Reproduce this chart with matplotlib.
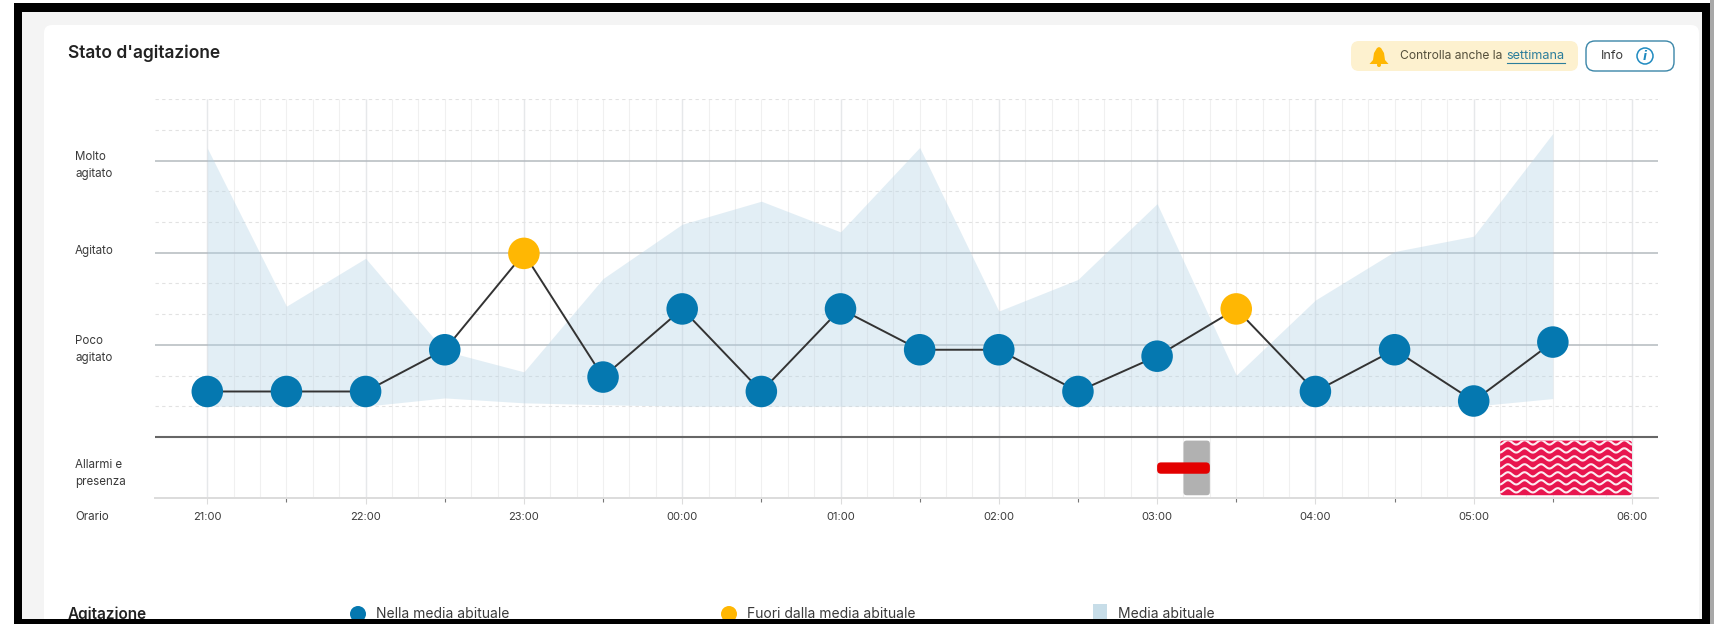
import matplotlib
matplotlib.use("Agg")
import numpy as np
import matplotlib.pyplot as plt
from matplotlib.patches import Rectangle, FancyBboxPatch, Circle, Polygon
from matplotlib.transforms import ScaledTranslation

W, H = 1714, 624
FONT = ["Inter", "DejaVu Sans"]
plt.rcParams["font.family"] = FONT

# ---- data ----
hour_labels = ["21:00", "22:00", "23:00", "00:00", "01:00", "02:00", "03:00", "04:00", "05:00", "06:00"]
time_h = [0, .5, 1, 1.5, 2, 2.5, 3, 3.5, 4, 4.5, 5, 5.5, 6, 6.5, 7, 7.5, 8, 8.5]
agitation = [.48, .48, .48, 1.84, 4.98, .95, 3.17, .48, 3.17, 1.84, 1.84, .48, 1.63, 3.17, .48, 1.84, .17, 2.09]
outside = [0, 0, 0, 0, 1, 0, 0, 0, 0, 0, 0, 0, 0, 1, 0, 0, 0, 0]
band_upper = [8.41, 3.26, 4.82, 1.80, 1.12, 4.16, 5.93, 6.68, 5.68, 8.43, 3.10, 4.13, 6.60, 1.01, 3.46, 5.04, 5.54, 8.89]
band_lower = [0, 0, 0, .27, .11, .05, 0, 0, 0, 0, 0, 0, 0, 0, 0, 0, 0, .25]
level_values = [8, 5, 2, -2]
level_labels = ["Molto\nagitato", "Agitato", "Poco\nagitato", "Allarmi e\npresenza"]
solid_levels = [2, 5, 8]
dashed_levels = [0, 1, 3, 4, 6, 7, 9, 10]
presence_span = [6 + 1 / 6, 6 + 2 / 6]
alarm_span = [6.0, 6 + 2 / 6]
wave_span = [8 + 1 / 6, 9.0]

BLUE, ORANGE = "#0578b0", "#ffb703"
TXT = "#3a3a3a"

fig = plt.figure(figsize=(W / 100, H / 100), dpi=100, facecolor="white")

# ---- page furniture, in pixel coordinates ----
bg = fig.add_axes([0, 0, 1, 1], zorder=0)
bg.set_xlim(0, W); bg.set_ylim(H, 0); bg.axis("off")
bg.add_patch(Rectangle((22, 11), 1680, 610, fc="#f4f4f4", ec="none"))
bg.add_patch(FancyBboxPatch((44, 25), 1655, 640, boxstyle="round,pad=0,rounding_size=8", fc="white", ec="none"))
bg.text(68, 53, "Stato d'agitazione", fontsize=12.5, fontweight=600, color="#222222", va="center")

bg.add_patch(FancyBboxPatch((1351, 41), 227, 30, boxstyle="round,pad=0,rounding_size=8", fc="#fdf1cf", ec="none"))
bg.add_patch(Polygon([(1369.5, 64), (1373, 60), (1374, 53), (1377, 48), (1379, 47), (1381, 48), (1384, 53),
                      (1385, 60), (1388.5, 64)], fc="#ffb703", ec="none"))
bg.add_patch(Circle((1379, 65), 2, fc="#ffb703", ec="none"))
bg.text(1400, 56, "Controlla anche la", fontsize=8.7, color="#55503c", va="center")
bg.text(1506.5, 56, "settimana", fontsize=9.1, color="#2b7d9b", va="center")
bg.plot([1507, 1565], [62.5, 62.5], color="#2b7d9b", lw=0.8)
bg.add_patch(FancyBboxPatch((1586, 41), 88, 30, boxstyle="round,pad=0,rounding_size=9", fc="white", ec="#3b86a8", lw=1))
bg.text(1601, 56, "Info", fontsize=9, color=TXT, va="center")
bg.add_patch(Circle((1645, 56), 8, fc="white", ec="#1f8ac0", lw=1.1))
bg.text(1645, 56, "i", fontsize=8.5, color="#1f8ac0", style="italic", fontweight="bold", ha="center", va="center",
        family=["DejaVu Sans"])

LEG_Y = 614
bg.text(68, LEG_Y, "Agitazione", fontsize=11, fontweight=600, color="#222222", va="center")
bg.add_patch(Circle((358, LEG_Y), 8, fc=BLUE, ec="none"))
bg.text(376, LEG_Y, "Nella media abituale", fontsize=10, color=TXT, va="center")
bg.add_patch(Circle((729, LEG_Y), 8, fc=ORANGE, ec="none"))
bg.text(747, LEG_Y, "Fuori dalla media abituale", fontsize=10, color=TXT, va="center")
bg.add_patch(Rectangle((1093, 604), 14, 20, fc="#c7dde8", ec="none"))
bg.text(1118, LEG_Y, "Media abituale", fontsize=10, color=TXT, va="center")

# ---- chart ----
px0, px1, py0, py1 = 155, 1658, 99.3, 498.3
ax = fig.add_axes([px0 / W, 1 - py1 / H, (px1 - px0) / W, (py1 - py0) / H], zorder=1)
ax.patch.set_alpha(0)
ax.set_xlim((px0 - 207.3) / 158.3, (px1 - 207.3) / 158.3)
ax.set_ylim(-3, 10)

x_hours = np.arange(len(hour_labels))
x_minor = np.arange(0, 54 + 1) / 6
ax.vlines(x_minor, -3, 10, color="#f0f0f0", lw=0.8, zorder=1)
ax.vlines(x_hours, -3, 10, color="#e6e8ea", lw=1.0, zorder=1)
ax.hlines(dashed_levels, ax.get_xlim()[0], ax.get_xlim()[1], color="#e2e2e2", lw=0.8, linestyles=(0, (3, 3)), zorder=1.1)
ax.hlines(solid_levels, ax.get_xlim()[0], ax.get_xlim()[1], color="#b4babf", lw=1.1, zorder=1.2)
ax.axhline(-1, color="#666666", lw=1.5, zorder=2)

ax.fill_between(time_h, band_lower, band_upper, color="#b5d3e5", alpha=0.38, lw=0, zorder=2)
ax.plot(time_h, agitation, color="#333333", lw=1.4, zorder=3)
dot_colors = [ORANGE if o else BLUE for o in outside]
ax.scatter(time_h, agitation, s=22.7 ** 2, c=dot_colors, linewidths=0, zorder=4, clip_on=False)

# alarms band
def bar(span, y0, y1, color, r=0.02):
    p = FancyBboxPatch((span[0], y0), span[1] - span[0], y1 - y0, boxstyle=f"round,pad=0,rounding_size={r}",
                       mutation_aspect=158.3 / 30.67, fc=color, ec="none", zorder=3)
    ax.add_patch(p)
    return p

bar(presence_span, -2.9, -1.12, "#b1b1b1")
bar(alarm_span, -2.2, -1.83, "#e30000", r=0.025)
wp = bar(wave_span, -2.9, -1.12, "#e8164f")
xw = np.linspace(wave_span[0], wave_span[1], 400)
for y_row in np.arange(-2.74, -1.1, 0.26):
    ln, = ax.plot(xw, y_row + 0.07 * np.sin(2 * np.pi * xw / 0.105), color="#fdecf1", lw=1.5, zorder=3.1)
    ln.set_clip_path(wp)

# axes
for s in ("top", "left", "right"):
    ax.spines[s].set_visible(False)
ax.spines["bottom"].set_color("#dcdcdc")
ax.spines["bottom"].set_linewidth(1.4)
ax.set_xticks(x_hours, hour_labels)
ax.set_xticks(x_hours[:-1] + 0.5, minor=True)
ax.tick_params(axis="x", which="major", length=4, width=0.8, color="#dcdcdc", labelsize=8, labelcolor=TXT, pad=6)
ax.tick_params(axis="x", which="minor", length=3, width=0.8, color="#777777")
ax.set_yticks(level_values, level_labels)
ax.tick_params(axis="y", length=0, labelsize=8.3, labelcolor=TXT, pad=(px0 - 75) * 0.72)
label_shift_px = [0.5, -3.6, 1, 1.5]
for lab, d in zip(ax.get_yticklabels(), label_shift_px):
    lab.set_ha("left")
    lab.set_linespacing(1.57)
    lab.set_transform(lab.get_transform() + ScaledTranslation(0, -d / 100, fig.dpi_scale_trans))
bg.text(75, 517, "Orario", fontsize=8.3, color=TXT, va="center")

# ---- screenshot frame on top ----
fr = fig.add_axes([0, 0, 1, 1], zorder=5)
fr.set_xlim(0, W); fr.set_ylim(H, 0); fr.axis("off")
for x, y, w, h, c in [(14, 3, 1696, 8.5, "black"), (14, 619, 1696, 5, "black"), (14, 3, 8, 621, "black"),
                      (1702, 3, 8, 621, "black"), (1710, 0, 4, 624, "#a8a8a8")]:
    fr.add_patch(Rectangle((x, y), w, h, fc=c, ec="none"))

fig.savefig("out.png", dpi=100)
